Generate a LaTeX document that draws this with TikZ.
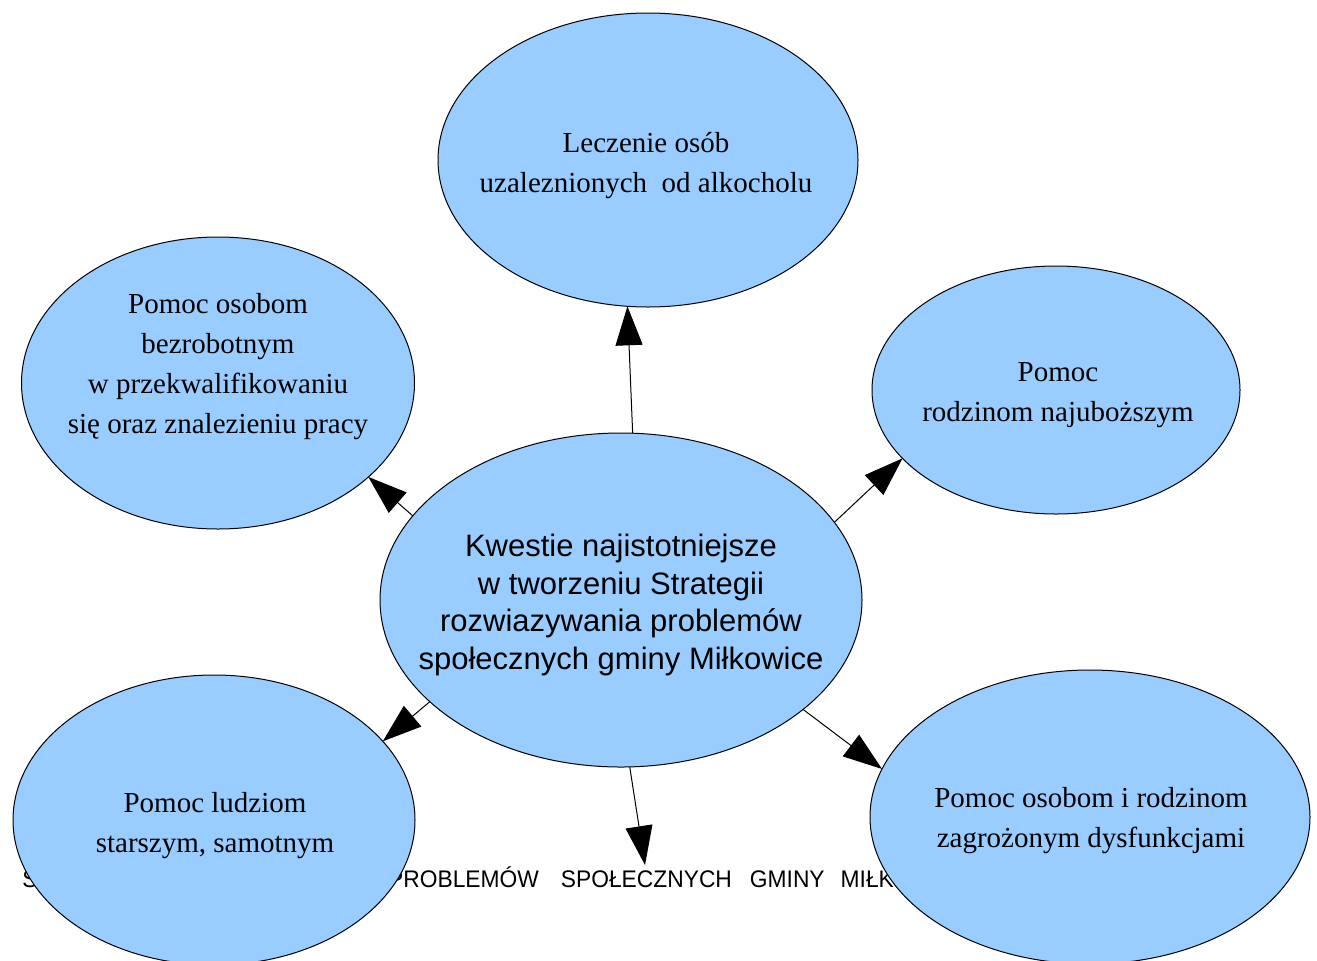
\documentclass[tikz,border=0pt]{standalone}
\usepackage{fontspec}
\setmainfont{Liberation Serif}
\newfontfamily\sansf{Liberation Sans}
\newfontfamily\hdrf[FakeStretch=0.95]{Liberation Sans}
\usetikzlibrary{shapes.geometric,arrows.meta}
\definecolor{bubblecol}{RGB}{153,204,255}
\begin{document}
\begin{tikzpicture}[x=0.5pt,y=-0.5pt,
  bubble/.style={ellipse,draw=black,line width=0.5pt,fill=bubblecol,inner sep=0pt,outer sep=0pt},
  lbl/.style={align=center,font=\fontsize{14.5}{20}\selectfont,inner sep=0pt},
  clbl/.style={align=center,font=\sansf\fontsize{15.5}{18.9}\selectfont,inner sep=0pt},
  conn/.style={line width=0.5pt,-{Triangle[length=19.5pt,width=13.5pt]}}]
\useasboundingbox (0,0) rectangle (1317,960);
\node[anchor=base west,inner sep=0pt,font=\hdrf\fontsize{12}{14}\selectfont] (hdr) at (22,887)
  {STRATEGIA\hspace{11pt}ROZWIĄZYWANIA\hspace{11pt}PROBLEMÓW\hspace{11pt}SPOŁECZNYCH\hspace{9pt}GMINY\hspace{8pt}MIŁKOWICE};
\node[bubble,minimum width=210pt,minimum height=147pt] (T) at (648,160) {};
\node[bubble,minimum width=196.5pt,minimum height=146pt] (L) at (218,383) {};
\node[bubble,minimum width=184pt,minimum height=124pt] (R) at (1056,390) {};
\node[bubble,minimum width=241pt,minimum height=167pt] (C) at (621,600) {};
\node[bubble,minimum width=201pt,minimum height=145pt] (BL) at (214,820) {};
\node[bubble,minimum width=220pt,minimum height=147pt] (BR) at (1090,817) {};
\node[lbl] (tT) at (646,166) {Leczenie osób\\uzaleznionych\ \ od alkocholu};
\node[lbl] (tL) at (218,367) {Pomoc osobom\\bezrobotnym\\w przekwalifikowaniu\\się oraz znalezieniu pracy};
\node[lbl] (tR) at (1058,395) {Pomoc\\rodzinom najuboższym};
\node[lbl] (tBL) at (215,826) {Pomoc ludziom\\starszym, samotnym};
\node[lbl] (tBR) at (1091,821) {Pomoc osobom i rodzinom\\zagrożonym dysfunkcjami};
\node[clbl] (tC) at (621,605) {Kwestie najistotniejsze\\w tworzeniu Strategii\\rozwiazywania problemów\\społecznych gminy Miłkowice};
\coordinate (bend) at (645,865);
\draw[conn] (C.86.9) -- (T.262.3);
\draw[conn] (C.158.4) -- (L.328.3);
\draw[conn] (C.20.5) -- (R.204.6);
\draw[conn] (C.208.1) -- (BL.25);
\draw[conn] (C.329.7) -- (BR.167.5);
\draw[conn] (C.273.1) -- (bend);
\end{tikzpicture}
\end{document}
